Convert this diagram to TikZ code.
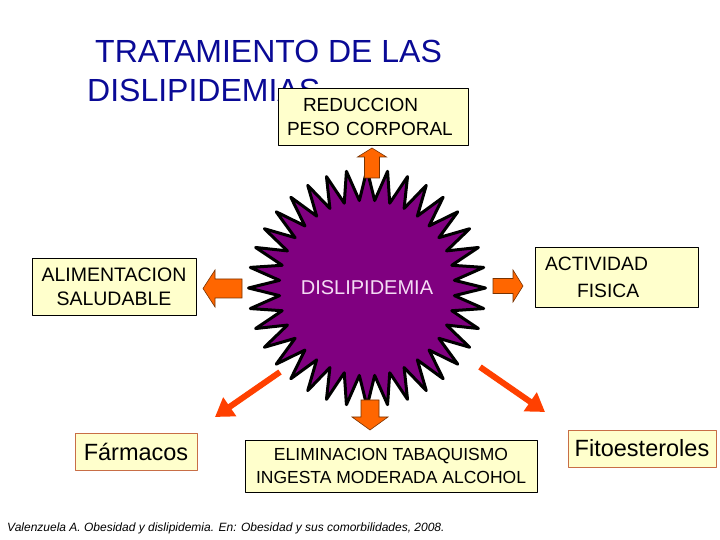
\documentclass[tikz,border=0pt]{standalone}
\usepackage{fontspec}
\setmainfont{Liberation Sans}
\usetikzlibrary{shapes.geometric,arrows.meta}
\definecolor{titleblue}{RGB}{10,10,150}
\definecolor{notefill}{RGB}{255,255,204}
\definecolor{notebrown}{RGB}{200,110,70}
\definecolor{starpurple}{RGB}{128,0,128}
\definecolor{starpink}{RGB}{245,220,245}
\definecolor{blockorange}{RGB}{255,102,0}
\definecolor{blockedge}{RGB}{120,50,0}
\definecolor{linkred}{RGB}{255,64,0}
\tikzset{
  notebox/.style={draw=black, line width=0.8pt, fill=notefill, align=center, inner sep=0pt},
  softbox/.style={notebox, draw=notebrown},
  arrowfill/.style={draw=blockedge, line width=0.6pt, fill=blockorange, line join=miter},
  redlink/.style={draw=linkred, line width=6pt, -{Triangle[length=18pt,width=22pt]}},
  pics/blockarrow/.style args={#1/#2/#3/#4}{code={
    \path[arrowfill] (0,{-#3/2}) -- ({#1-#4},{-#3/2}) -- ({#1-#4},{-#2/2}) -- (#1,0)
      -- ({#1-#4},{#2/2}) -- ({#1-#4},{#3/2}) -- (0,{#3/2}) -- cycle;}}
}
\begin{document}
\begin{tikzpicture}[x=1pt, y=1pt, line join=round]
  \useasboundingbox (0,0) rectangle (720,540);
  % title
  \node[anchor=base west, inner sep=0pt, text=titleblue, font=\fontsize{32}{36}\selectfont] (title1) at (95,477) {TRATAMIENTO DE LAS};
  \node[anchor=base west, inner sep=0pt, text=titleblue, font=\fontsize{32}{36}\selectfont] (title2) at (87,438) {DISLIPIDEMIAS};
  % central star
  \node[star, star points=36, star point ratio=1.35, minimum size=237pt, inner sep=0pt, draw=black, line width=3pt,
    fill=starpurple] (dis) at (367,252) {};
  \node[text=starpink, font=\fontsize{20}{24}\selectfont] (distext) at (dis.center) {DISLIPIDEMIA};
  % boxes
  \node[notebox, minimum width=190pt, minimum height=57pt, text width=172pt, align=left, font=\fontsize{19}{24}\selectfont] (peso) at (373,423.5) {\hspace*{16pt}REDUCCION\\PESO CORPORAL};
  \node[notebox, minimum width=164pt, minimum height=57pt, font=\fontsize{19.5}{24}\selectfont] (alim) at (114,253.5) {ALIMENTACION\\SALUDABLE};
  \node[notebox, minimum width=163pt, minimum height=60pt, text width=143pt, align=left, font=\fontsize{19.3}{27}\selectfont] (acti) at (616.5,263) {ACTIVIDAD\\\hspace*{32pt}FISICA};
  \node[notebox, minimum width=292pt, minimum height=52pt, font=\fontsize{17.5}{23}\selectfont] (elim) at (391,74) {ELIMINACION TABAQUISMO\\INGESTA MODERADA ALCOHOL};
  \node[softbox, minimum width=122pt, minimum height=37pt, font=\fontsize{23.5}{28}\selectfont] (farm) at (136,88.5) {Fármacos};
  \node[softbox, minimum width=148pt, minimum height=37pt, font=\fontsize{23.5}{28}\selectfont] (fito) at (642,91.5) {Fitoesteroles};
  % block arrows
  \pic[rotate=90] at (372,362) {blockarrow=30/29/15/9};
  \pic[rotate=180] at (242,251.5) {blockarrow=39/37/19/12};
  \pic at (493,254) {blockarrow=30/32/15/10};
  \pic[rotate=-90] at (370,140) {blockarrow=30/36/18/13};
  % red links
  \coordinate (farmtail) at (280,168);
  \coordinate (farmtip) at (215,123);
  \coordinate (fitotail) at (480,173);
  \coordinate (fitotip) at (545,128);
  \draw[redlink] (farmtail) -- (farmtip);
  \draw[redlink] (fitotail) -- (fitotip);
  % source
  \node[anchor=base west, inner sep=0pt, font=\fontsize{12}{14}\selectfont\itshape] (cite) at (7,8) {Valenzuela A. Obesidad y dislipidemia. En: Obesidad y sus comorbilidades, 2008.};
\end{tikzpicture}
\end{document}
